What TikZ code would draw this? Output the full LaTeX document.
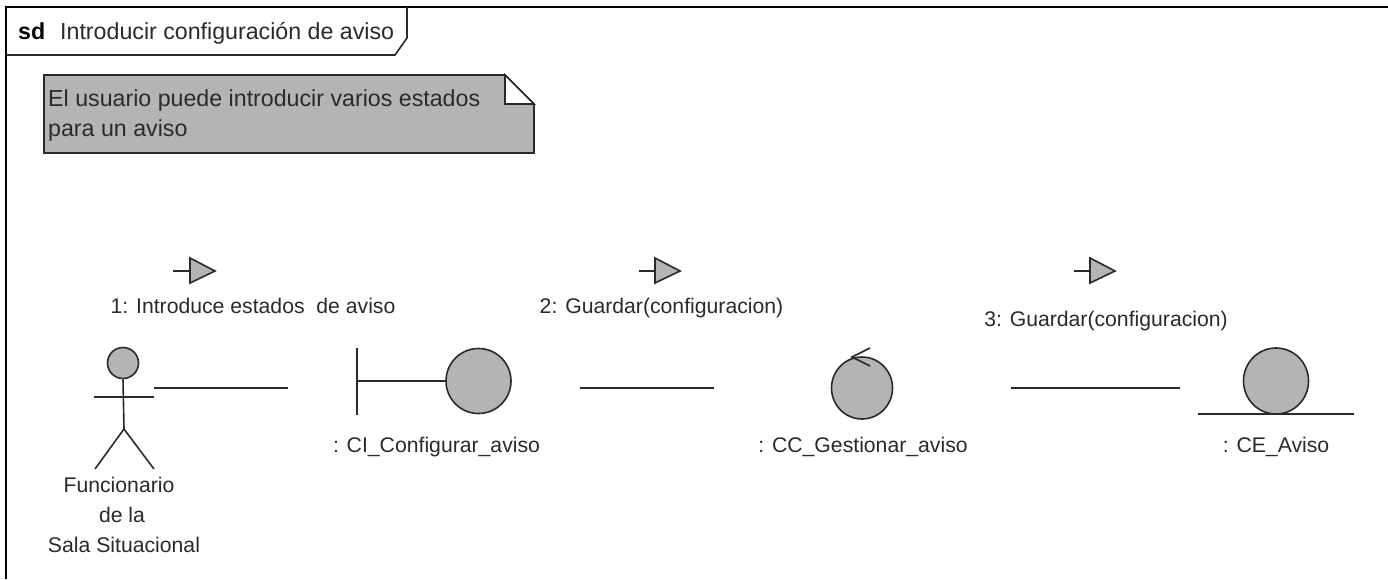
\documentclass[tikz,border=0pt]{standalone}
\usepackage{fontspec}
\usetikzlibrary{shapes.geometric}
\setmainfont{Liberation Sans}
\definecolor{fillg}{HTML}{B4B4B4}
\definecolor{ink}{HTML}{2A2A2A}
\tikzset{
  px/.style={x=1pt,y=-1pt},
  ln/.style={draw=ink,line width=1.6pt},
  shp/.style={draw=ink,line width=1.6pt,fill=fillg},
  lbl/.style={inner sep=0pt,text=ink,font=\fontsize{21.2}{25}\selectfont,anchor=base},
  big/.style={inner sep=0pt,text=ink,font=\fontsize{23.2}{27}\selectfont,anchor=base west},
  msgline/.style={draw=ink,line width=1.6pt}
}
\begin{document}
\begin{tikzpicture}[px]
\useasboundingbox (0,0) rectangle (1388,579);
\fill[white] (0,0) rectangle (1388,579);
% frame
\draw[draw=black,line width=2.2pt] (6,579) -- (6,7) -- (1388,7);
\draw[ln] (6,55) -- (395,55) -- (407,38) -- (407,7);
\node[big,text=black] (sd) at (18,39) {\bfseries sd};
\node[big] (title) at (60,39) {Introducir configuración de aviso};
% note
\draw[shp,line join=miter] (44,75) -- (505,75) -- (534,104) -- (534,153) -- (44,153) -- cycle;
\fill[white] (505,75) -- (534,104) -- (505,104) -- cycle;
\draw[ln,line join=miter] (505,75) -- (505,104) -- (534,104) -- cycle;
\node[big] (n1) at (48,106) {El usuario puede introducir varios estados};
\node[big] (n2) at (48,136) {para un aviso};
% actor
\node[circle,shp,minimum size=31pt,inner sep=0pt] (head) at (123,363) {};
\coordinate (crotch) at (124,429);
\draw[ln] (head.south) -- (crotch);
\draw[ln] (94,397) -- (154,397);
\draw[ln] (95,469) -- (crotch) -- (154,469);
\node[lbl] (a1) at (119,492) {Funcionario};
\node[lbl] (a2) at (122,522) {de la};
\node[lbl] (a3) at (124,552) {Sala Situacional};
% boundary
\node[circle,shp,minimum size=65pt,inner sep=0pt] (bnd) at (478.5,381) {};
\coordinate (bt) at (357,348);
\coordinate (bb) at (357,415);
\coordinate (bm) at (357,381);
\draw[ln] (bt) -- (bb);
\draw[ln] (bm) -- (bnd.west);
\node[lbl] (blab) at (436.5,452) {: CI\_Configurar\_aviso};
% control
\node[ellipse,shp,minimum width=61pt,minimum height=62pt,inner sep=0pt] (ctl) at (862,388) {};
\draw[ln] (870,348) -- (852,357) -- (870,366);
\node[lbl] (clab) at (863,452) {: CC\_Gestionar\_aviso};
% entity
\node[ellipse,shp,minimum width=65pt,minimum height=66pt,inner sep=0pt] (ent) at (1276,381) {};
\coordinate (el) at (1198,414);
\coordinate (er) at (1354,414);
\draw[ln] (el) -- (er);
\node[lbl] (elab) at (1276,452) {: CE\_Aviso};
% links
\coordinate (l1a) at (154,388); \coordinate (l1b) at (288,388);
\coordinate (l2a) at (580,388); \coordinate (l2b) at (714,388);
\coordinate (l3a) at (1011,388); \coordinate (l3b) at (1180,388);
\draw[msgline] (l1a) -- (l1b);
\draw[msgline] (l2a) -- (l2b);
\draw[msgline] (l3a) -- (l3b);
% direction marks
\draw[shp,line join=miter] (190,258) -- (215,271) -- (190,283) -- cycle;
\draw[ln] (173,271) -- (190,271);
\draw[shp,line join=miter] (655,258) -- (680,271) -- (655,283) -- cycle;
\draw[ln] (639,271) -- (655,271);
\draw[shp,line join=miter] (1090,258) -- (1115,271) -- (1090,283) -- cycle;
\draw[ln] (1074,271) -- (1090,271);
% labels
\node[lbl] (m1) at (253,313) {1: Introduce estados\ \ de aviso};
\node[lbl] (m2) at (661.5,313) {2: Guardar(configuracion)};
\node[lbl] (m3) at (1106,326) {3: Guardar(configuracion)};
\end{tikzpicture}
\end{document}
